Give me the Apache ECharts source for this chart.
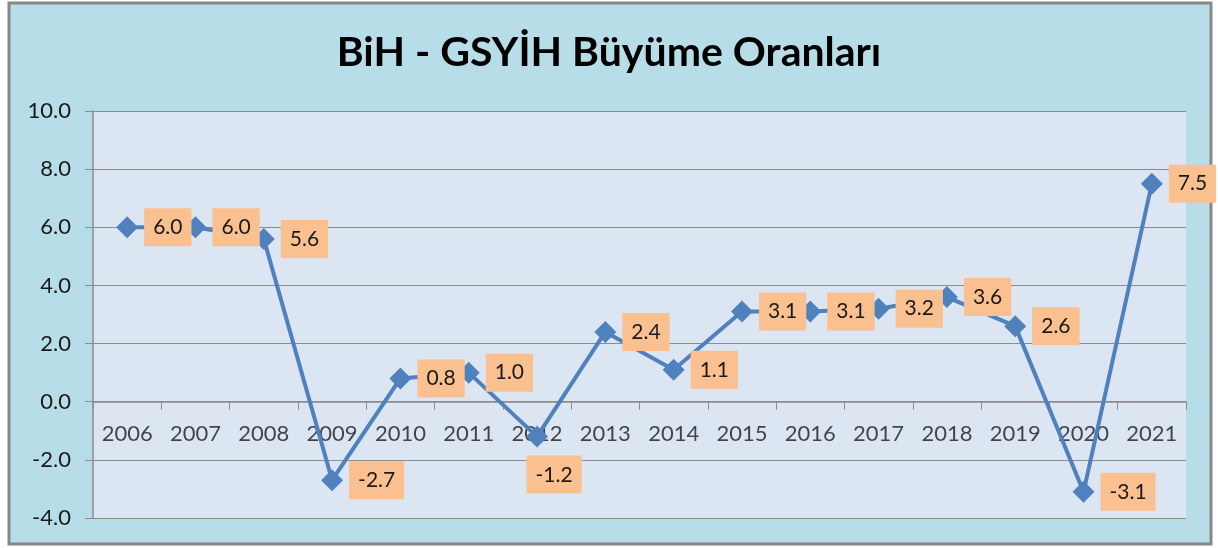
<!DOCTYPE html>
<html><head><meta charset="utf-8">
<script src="https://cdn.jsdelivr.net/npm/echarts@6/dist/echarts.min.js"></script>
<style>html,body{margin:0;padding:0;background:#fff}#c{width:1218px;height:548px}</style>
</head><body><div id="c"></div>
<script>
const years = ['2006','2007','2008','2009','2010','2011','2012','2013','2014','2015','2016','2017','2018','2019','2020','2021'];
const growth = [6.0, 6.0, 5.6, -2.7, 0.8, 1.0, -1.2, 2.4, 1.1, 3.1, 3.1, 3.2, 3.6, 2.6, -3.1, 7.5];
const titleText = 'BiH - GSYİH Büyüme Oranları';

const chart = echarts.init(document.getElementById('c'));
const font = 'Lato, Open Sans, sans-serif';
const lineData = growth.map((v, i) => years[i] === '2012'
  ? {value: v, label: {position: 'bottom', distance: 8, offset: [17, 0]}}
  : v);
chart.setOption({
  backgroundColor: '#ffffff',
  animation: false,
  graphic: [{
    type: 'rect', z: -10, silent: true,
    shape: {x: 9, y: 3, width: 1202, height: 541},
    style: {fill: '#b7dde8', stroke: '#878787', lineWidth: 3}
  }],
  title: {
    text: titleText, left: 'center', top: 27,
    textStyle: {fontFamily: font, fontSize: 41, fontWeight: 'bold', color: '#000'}
  },
  grid: {left: 93, right: 32, top: 111, bottom: 30, show: true, backgroundColor: '#dce6f2', borderWidth: 0, containLabel: false, outerBoundsMode: 'none'},
  xAxis: {
    type: 'category', data: years, boundaryGap: true,
    axisLine: {onZero: true, lineStyle: {color: '#8c8c8c', width: 1.5}},
    axisTick: {show: true, length: 8, lineStyle: {color: '#8c8c8c'}},
    axisLabel: {show: false}
  },
  yAxis: {
    type: 'value', min: -4, max: 10, interval: 2,
    axisLine: {show: true, lineStyle: {color: '#8c8c8c', width: 1.5}},
    axisTick: {show: true, length: 8, lineStyle: {color: '#8c8c8c'}},
    splitLine: {lineStyle: {color: '#8c8c8c', width: 1.2}},
    axisLabel: {color: '#1a1a1a', fontFamily: font, fontSize: 22, margin: 22, formatter: v => v.toFixed(1)}
  },
  series: [{
    type: 'scatter', z: 1, silent: true,
    data: years.map(y => [y, 0]),
    symbolSize: 1, itemStyle: {color: 'rgba(0,0,0,0)'},
    label: {
      show: true, position: 'bottom', distance: 21,
      formatter: p => p.value[0],
      color: '#1a1a1a', fontFamily: font, fontSize: 22
    }
  }, {
    type: 'line', data: lineData, z: 3,
    symbol: 'diamond', symbolSize: 22,
    lineStyle: {color: '#4f81bd', width: 4},
    itemStyle: {color: '#4f81bd'},
    label: {
      show: true, position: 'right', distance: 6,
      formatter: p => p.value.toFixed(1),
      backgroundColor: '#fac090', padding: [9, 9, 8, 9],
      color: '#1a1a1a', fontFamily: font, fontSize: 21
    }
  }]
});
</script></body></html>
